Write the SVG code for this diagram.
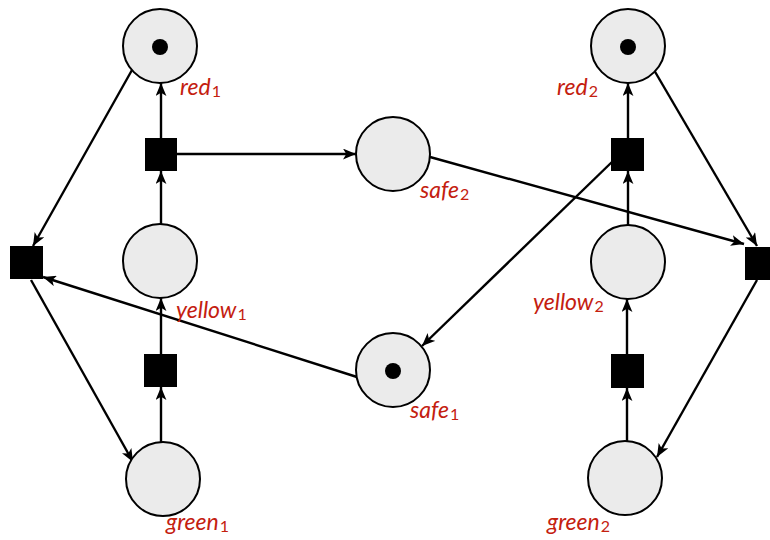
<svg xmlns="http://www.w3.org/2000/svg" width="770" height="540" viewBox="0 0 770 540">
<style>
.place{fill:#ebebeb;stroke:#000;stroke-width:2}
.trans{fill:#000}
.tok{fill:#000}
.arc{stroke:#000;stroke-width:2.4;fill:none;marker-end:url(#ah)}
.lbl{font-family:Lato,"Open Sans",sans-serif;font-style:italic;font-size:23px;fill:#c4200f}
.sub{font-size:16px;font-style:normal}
</style>
<defs>
<marker id="ah" viewBox="0 0 12 10" refX="12" refY="5" markerWidth="13" markerHeight="11" markerUnits="userSpaceOnUse" orient="auto">
<path d="M0,0 L12,5 L0,10 L3,5 Z" fill="#000"/>
</marker>
</defs>
<rect width="770" height="540" fill="#fff"/>
<g id="connectors">
<line class="arc" x1="132" y1="70" x2="33" y2="246"/>
<line class="arc" x1="31" y1="280" x2="133" y2="462"/>
<line class="arc" x1="357" y1="377" x2="43" y2="277"/>
<line class="arc" x1="161" y1="138" x2="161" y2="83"/>
<line class="arc" x1="161" y1="225" x2="161" y2="171"/>
<line class="arc" x1="177" y1="154" x2="356" y2="154"/>
<line class="arc" x1="161" y1="354" x2="161" y2="298"/>
<line class="arc" x1="161" y1="442" x2="161" y2="387"/>
<line class="arc" x1="430" y1="157" x2="744" y2="244"/>
<line class="arc" x1="654" y1="70" x2="757" y2="246"/>
<line class="arc" x1="757" y1="280" x2="657" y2="457"/>
<line class="arc" x1="614" y1="160" x2="422" y2="346"/>
<line class="arc" x1="628" y1="138" x2="628" y2="83"/>
<line class="arc" x1="628" y1="225" x2="628" y2="171"/>
<line class="arc" x1="627" y1="354" x2="627" y2="299"/>
<line class="arc" x1="627" y1="442" x2="627" y2="388"/>
</g>
<g id="red1"><circle class="place" cx="160" cy="46" r="37"/><circle class="tok" cx="160" cy="47" r="8"/><text class="lbl" x="180" y="95">red<tspan class="sub" dx="1" dy="2">1</tspan></text></g>
<g id="red2"><circle class="place" cx="628" cy="46" r="37"/><circle class="tok" cx="628" cy="47" r="8"/><text class="lbl" x="557" y="95">red<tspan class="sub" dx="1" dy="2">2</tspan></text></g>
<g id="yellow1"><circle class="place" cx="160" cy="261" r="37"/><text class="lbl" x="176" y="318">yellow<tspan class="sub" dx="1" dy="2">1</tspan></text></g>
<g id="yellow2"><circle class="place" cx="628" cy="262" r="37"/><text class="lbl" x="533" y="310">yellow<tspan class="sub" dx="1" dy="2">2</tspan></text></g>
<g id="green1"><circle class="place" cx="163" cy="479" r="37"/><text class="lbl" x="166" y="530">green<tspan class="sub" dx="1" dy="2">1</tspan></text></g>
<g id="green2"><circle class="place" cx="625" cy="478" r="37"/><text class="lbl" x="547" y="530">green<tspan class="sub" dx="1" dy="2">2</tspan></text></g>
<g id="safe2"><circle class="place" cx="393" cy="154" r="37"/><text class="lbl" x="420" y="198">safe<tspan class="sub" dx="1" dy="2">2</tspan></text></g>
<g id="safe1"><circle class="place" cx="393" cy="370" r="37"/><circle class="tok" cx="393" cy="371" r="8"/><text class="lbl" x="410" y="418">safe<tspan class="sub" dx="1" dy="2">1</tspan></text></g>
<g id="t_left"><rect class="trans" x="10" y="246" width="33" height="33"/></g>
<g id="t_right"><rect class="trans" x="745" y="247" width="33" height="33"/></g>
<g id="t_red1"><rect class="trans" x="145" y="138" width="32" height="33"/></g>
<g id="t_green1"><rect class="trans" x="144" y="354" width="33" height="33"/></g>
<g id="t_red2"><rect class="trans" x="611" y="138" width="33" height="33"/></g>
<g id="t_green2"><rect class="trans" x="611" y="354" width="33" height="34"/></g>
</svg>
